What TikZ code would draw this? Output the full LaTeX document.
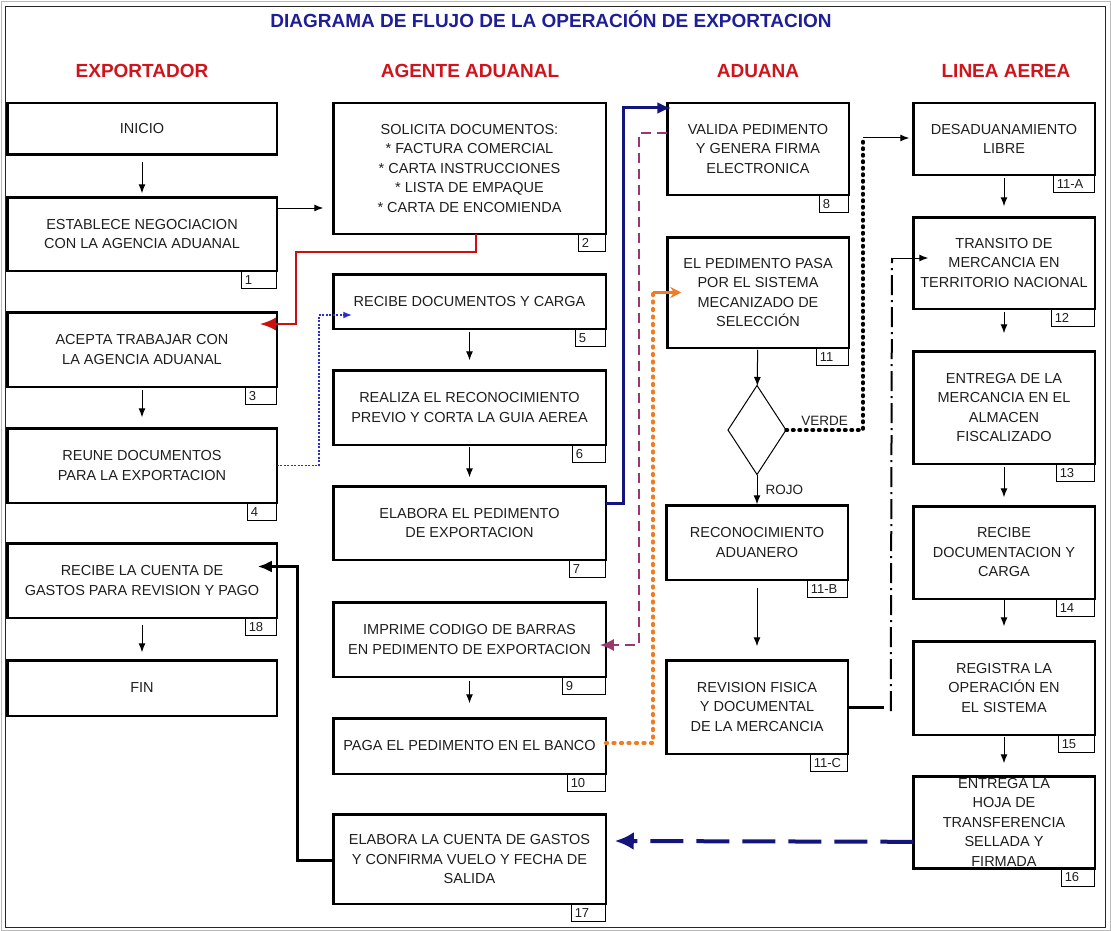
\documentclass[tikz,border=0pt]{standalone}
\usepackage{fontspec}
\setmainfont{Liberation Sans}
\usepackage{tikz}
\usetikzlibrary{positioning}
\usetikzlibrary{arrows.meta,shapes.geometric}

\definecolor{azultitulo}{RGB}{30,30,150}
\definecolor{rojoenc}{RGB}{208,20,28}
\definecolor{texto}{RGB}{30,30,30}
\definecolor{rojolinea}{RGB}{205,15,15}
\definecolor{azulpunto}{RGB}{45,45,200}
\definecolor{marino}{RGB}{20,20,125}
\definecolor{purpura}{RGB}{155,55,110}
\definecolor{naranja}{RGB}{240,125,35}

\tikzset{
  caja/.style={draw, rectangle, line width=2.5pt, outer sep=0pt, inner sep=2pt, align=center, text=texto, font=\fontsize{14.5}{19.5}\selectfont},
  col1/.style={caja, minimum width=269.5pt},
  col2/.style={caja, minimum width=272.5pt},
  col34/.style={caja, minimum width=181.5pt},
  num/.style={draw, line width=1pt, outer sep=0pt, inner xsep=3pt, inner ysep=0pt, minimum height=18pt, text width=#1, align=left, text=texto, font=\fontsize{13}{14}\selectfont},
  num/.default=28pt,
  decision/.style={draw, diamond, line width=1pt, outer sep=0pt, inner sep=0pt, minimum width=58pt, minimum height=89pt},
  etiqueta/.style={text=texto, inner sep=1pt, font=\fontsize{13.5}{15}\selectfont},
  titulo/.style={text=azultitulo, font=\bfseries\fontsize{19}{22}\selectfont},
  encabezado/.style={text=rojoenc, font=\bfseries\fontsize{19}{22}\selectfont},
  flecha/.style={line width=1pt, -{Latex[length=9pt,width=7pt]}},
  rojo/.style={draw=rojolinea, line width=2.5pt, -{Latex[length=16pt,width=13pt]}},
  azulpunteado/.style={draw=azulpunto, line width=1.8pt, dash pattern=on 2pt off 1.5pt, -{Latex[length=9pt,width=7pt]}},
  marinoflecha/.style={draw=marino, line width=3pt, -{Latex[length=14pt,width=12pt]}},
  purpuraflecha/.style={draw=purpura, line width=2pt, dash pattern=on 10pt off 6pt, -{Latex[length=14pt,width=12pt]}},
  naranjapunteado/.style={draw=naranja, line width=3.8pt, line cap=round, dash pattern=on 1.5pt off 6pt},
  naranjaflecha/.style={draw=naranja, line width=2.5pt, -{Stealth[length=11pt,width=11pt]}},
  negropunteado/.style={line width=3.5pt, line cap=round, dash pattern=on 1.5pt off 5pt},
  rayapunto/.style={line width=2pt, dash pattern=on 20pt off 5pt on 2pt off 5pt},
  negroflecha/.style={line width=3pt, -{Latex[length=14pt,width=12pt]}},
  marinodash/.style={draw=marino, line width=4pt, dash pattern=on 33pt off 13pt, -{Latex[length=19pt,width=18pt]}},
}

\begin{document}
\begin{tikzpicture}[x=1pt, y=-1pt]

\useasboundingbox (0,0) rectangle (1111,931);
\draw[gray!55, line width=1pt] (1,2) rectangle (1110,930);
\draw[black!85, line width=1.5pt] (5.5,6.5) rectangle (1105.5,927.5);

% titulos
\node[titulo] (titulo) at (551,19) {DIAGRAMA DE FLUJO DE LA OPERACIÓN DE EXPORTACION};
\node[encabezado] (h1) at (142,71) {EXPORTADOR};
\node[encabezado] (h2) at (470,71) {AGENTE ADUANAL};
\node[encabezado] (h3) at (758,71) {ADUANA};
\node[encabezado] (h4) at (1006,71) {LINEA AEREA};

% exportador
\node[col1, minimum height=51.5pt] (inicio) at (142,129) {INICIO};
\node[col1, minimum height=73.5pt] (n1) [below=42.5pt of inicio] {ESTABLECE NEGOCIACION\\CON LA AGENCIA ADUANAL};
\node[col1, minimum height=74.5pt] (n3) [below=41.5pt of n1] {ACEPTA TRABAJAR CON\\LA AGENCIA ADUANAL};
\node[col1, minimum height=74.5pt] (n4) [below=41.5pt of n3] {REUNE DOCUMENTOS\\PARA LA EXPORTACION};
\node[col1, minimum height=74.5pt] (n18) [below=40.5pt of n4] {RECIBE LA CUENTA DE\\GASTOS PARA REVISION Y PAGO};
\node[col1, minimum height=55.5pt] (fin) [below=42.5pt of n18] {FIN};

% agente aduanal
\node[col2, minimum height=130.5pt] (n2) at (469.5,168.5) {SOLICITA DOCUMENTOS:\\* FACTURA COMERCIAL\\* CARTA INSTRUCCIONES\\* LISTA DE EMPAQUE\\* CARTA DE ENCOMIENDA};
\node[col2, minimum height=54.5pt] (n5) [below=40.5pt of n2] {RECIBE DOCUMENTOS Y CARGA};
\node[col2, minimum height=74.5pt] (n6) [below=41.5pt of n5] {REALIZA EL RECONOCIMIENTO\\PREVIO Y CORTA LA GUIA AEREA};
\node[col2, minimum height=73.5pt] (n7) [below=41.5pt of n6] {ELABORA EL PEDIMENTO\\DE EXPORTACION};
\node[col2, minimum height=74.5pt] (n9) [below=42.5pt of n7] {IMPRIME CODIGO DE BARRAS\\EN PEDIMENTO DE EXPORTACION};
\node[col2, minimum height=55.5pt] (n10) [below=41.5pt of n9] {PAGA EL PEDIMENTO EN EL BANCO};
\node[col2, minimum height=89.5pt] (n17) [below=40.5pt of n10] {ELABORA LA CUENTA DE GASTOS\\Y CONFIRMA VUELO Y FECHA DE\\SALIDA};

% aduana
\node[col34, minimum height=91.5pt] (n8) at (758,149) {VALIDA PEDIMENTO\\Y GENERA FIRMA\\ELECTRONICA};
\node[col34, minimum height=110.5pt] (n11) [below=42.5pt of n8] {EL PEDIMENTO PASA\\POR EL SISTEMA\\MECANIZADO DE\\SELECCIÓN};
\node[decision] (dec) at (757,430) {};
\node[col34, minimum height=74.5pt] (n11b) [below=30.75pt of dec] {RECONOCIMIENTO\\ADUANERO};
\node[col34, minimum height=93.5pt] (n11c) [below=80.5pt of n11b] {REVISION FISICA\\Y DOCUMENTAL\\DE LA MERCANCIA};

% linea aerea
\node[col34, minimum height=71.5pt] (n11a) at (1004,139) {DESADUANAMIENTO\\LIBRE};
\node[col34, minimum height=91.5pt] (n12) [below=42.5pt of n11a] {TRANSITO DE\\MERCANCIA EN\\TERRITORIO NACIONAL};
\node[col34, minimum height=112.5pt] (n13) [below=42.5pt of n12] {ENTREGA DE LA\\MERCANCIA EN EL\\ALMACEN\\FISCALIZADO};
\node[col34, minimum height=92.5pt] (n14) [below=42.5pt of n13] {RECIBE\\DOCUMENTACION Y\\CARGA};
\node[col34, minimum height=93.5pt] (n15) [below=42.5pt of n14] {REGISTRA LA\\OPERACIÓN EN\\EL SISTEMA};
\node[col34, minimum height=90.5pt] (n16) [below=41.5pt of n15] {ENTREGA LA\\HOJA DE\\TRANSFERENCIA\\SELLADA Y\\FIRMADA};

% numeros
\node[num=29pt] (t1) [below left=0pt of n1.south east] {1};
\node[num=25pt] (t3) [below left=0pt of n3.south east] {3};
\node[num=23pt] (t4) [below left=0pt of n4.south east] {4};
\node[num=25pt] (t18) [below left=0pt of n18.south east] {18};
\node[num=21pt] (t2) [below left=0pt of n2.south east] {2};
\node[num=24pt] (t5) [below left=0pt of n5.south east] {5};
\node[num=27pt] (t6) [below left=0pt of n6.south east] {6};
\node[num=30pt] (t7) [below left=0pt of n7.south east] {7};
\node[num=37pt] (t9) [below left=0pt of n9.south east] {9};
\node[num=32pt] (t10) [below left=0pt of n10.south east] {10};
\node[num=28pt] (t17) [below left=0pt of n17.south east] {17};
\node[num=23pt] (t8) [below left=0pt of n8.south east] {8};
\node[num=26pt] (t11) [below left=0pt of n11.south east] {11};
\node[num=34pt] (t11b) [below left=0pt of n11b.south east] {11-B};
\node[num=31pt] (t11c) [below left=0pt of n11c.south east] {11-C};
\node[num=35pt] (t11a) [below left=0pt of n11a.south east] {11-A};
\node[num=37pt] (t12) [below left=0pt of n12.south east] {12};
\node[num=32pt] (t13) [below left=0pt of n13.south east] {13};
\node[num=32pt] (t14) [below left=0pt of n14.south east] {14};
\node[num=30pt] (t15) [below left=0pt of n15.south east] {15};
\node[num=27pt] (t16) [below left=0pt of n16.south east] {16};

% flechas de cada columna
\path[flecha]
    (inicio) edge [shorten <=7pt, shorten >=4pt] (n1)
    (n3)     edge [shorten <=3pt, shorten >=11pt] (n4)
    (n18)    edge [shorten <=7pt, shorten >=8pt] (fin)
    (n5)     edge [shorten <=3pt, shorten >=10pt] (n6)
    (n6)     edge [shorten <=2pt, shorten >=9pt] (n7)
    (n9)     edge [shorten <=4pt, shorten >=15pt] (n10)
    (n11)    edge [shorten <=2pt] (dec)
    (dec)    edge [shorten >=1pt] node[etiqueta, right=7pt] {ROJO} (n11b)
    (n11b)   edge [shorten <=8pt, shorten >=14pt] (n11c)
    (n11a)   edge [shorten <=3pt, shorten >=11pt] (n12)
    (n12)    edge [shorten <=3pt, shorten >=18pt] (n13)
    (n13)    edge [shorten <=3pt, shorten >=9pt] (n14)
    (n14)    edge [shorten <=1pt, shorten >=15pt] (n15)
    (n15)    edge [shorten <=2pt, shorten >=13pt] (n16)
    ;

\draw[flecha, shorten >=10pt] ([yshift=26pt]n1.east) -- ([yshift=-39.5pt]n2.west);

% conectores entre columnas
\coordinate (r1) at (296,252);
\draw[rojo] ([xshift=6.5pt]n2.south) |- (r1) |- ([xshift=-17pt,yshift=25.5pt]n3.east);

\draw[azulpunteado] (n4.east) -- ++(42,0) |- ([xshift=19pt,yshift=-13.5pt]n5.west);

\draw[marinoflecha] ([yshift=20pt]n7.east) -- ++(18,0) |- ([xshift=4pt,yshift=41pt]n8.west);

\draw[purpuraflecha] ([yshift=16pt]n8.west) -- ++(-28,0) |- ([xshift=-6pt,yshift=-5.5pt]n9.east);

\coordinate (o1) at (653,292.5);
\draw[naranjapunteado] ([yshift=3pt]n10.east) -| (o1);
\draw[naranjaflecha] (o1) -- ([xshift=14pt]n11.west);

\coordinate (v1) at (863,138);
\draw[negropunteado] (dec.east) -- node[etiqueta, above=2pt] {VERDE} (dec.east -| v1) -- (v1);
\draw[flecha, shorten >=4pt] (v1) -- (v1 -| n11a.west);

\coordinate (d1) at (892,258);
\draw[line width=3pt] (n11c.east) -- ++(36,0);
\draw[rayapunto] ([xshift=43pt,yshift=-4pt]n11c.east) -- (d1);
\draw[flecha] (d1) -- ([xshift=15pt,yshift=5pt]n12.west);

\draw[negroflecha] ([yshift=-1pt]n17.west) -- ++(-36,0) |- ([xshift=-19pt,yshift=14pt]n18.east);

\draw[marinodash] ([yshift=-19.5pt]n16.west) -- ([xshift=9pt,yshift=18pt]n17.east);

\end{tikzpicture}
\end{document}
